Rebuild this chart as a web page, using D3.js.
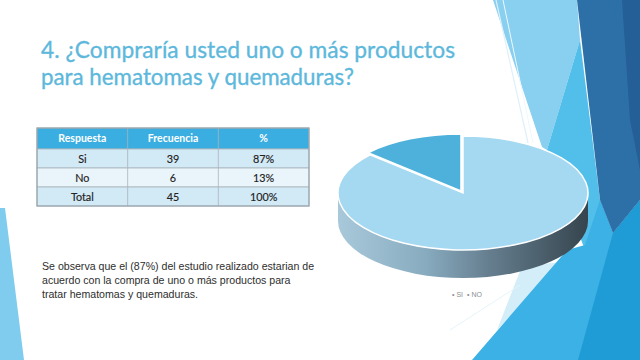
<!DOCTYPE html>
<html><head><meta charset="utf-8">
<script src="https://cdn.jsdelivr.net/npm/d3@7"></script>
<style>body{margin:0;background:#fff}svg{display:block}</style>
</head><body>
<svg id="c" width="640" height="360"></svg>
<script>
const titleLines = ["4. ¿Compraría usted uno o más productos", "para hematomas y quemaduras?"];
const tableHeaders = ["Respuesta", "Frecuencia", "%"];
const respuestas = ["Si", "No", "Total"];
const frecuencias = [39, 6, 45];
const porcentajes = ["87%", "13%", "100%"];
const pieCategories = ["SI", "NO"];
const pieValues = [39, 6];
const noteLines = [
  "Se observa que el (87%) del estudio realizado estarian de",
  "acuerdo con la compra de uno o más productos para",
  "tratar hematomas y quemaduras."
];

const svg = d3.select("#c");
const defs = svg.append("defs");

// ---------- decorative background (theme facets) ----------
const bg = svg.append("g");
const facets = [
  {c:"#7FCCEF", p:[[0,208],[5,208],[24,360],[0,360]]},
  {c:"#89CFEF", p:[[493,0],[577,0],[580,40],[547,150],[542,147]]},
  {c:"#52BEEA", p:[[580,40],[600,200],[613,233],[585,250],[547,150]]},
  {c:"#D3EEF9", p:[[497,330],[562,262],[522,266]]},
  {c:"#3BB1E5", p:[[472,360],[567,250],[585,245],[600,200],[613,233],[640,200],[640,360]]},
  {c:"#1F9BD6", p:[[578,360],[605,262],[613,233],[640,200],[640,360]]},
  {c:"#2D6FA7", p:[[577,0],[640,0],[640,200],[613,233],[600,200]]},
  {c:"#245F97", p:[[622,0],[640,0],[640,170],[630,120]]}
];
bg.selectAll("polygon").data(facets).join("polygon")
  .attr("points", d => d.p.map(q => q.join(",")).join(" "))
  .attr("fill", d => d.c);
bg.append("line").attr("x1",496).attr("y1",0).attr("x2",528).attr("y2",143)
  .attr("stroke","#DDF0FA").attr("stroke-width",1.2);
bg.append("line").attr("x1",503).attr("y1",0).attr("x2",533).attr("y2",143)
  .attr("stroke","#EEF8FC").attr("stroke-width",1);
bg.append("line").attr("x1",450).attr("y1",330).attr("x2",520).attr("y2",285)
  .attr("stroke","#E6F4FA").attr("stroke-width",1);

// ---------- title ----------
const titleLen = [414, 313];
svg.append("g").selectAll("text").data(titleLines).join("text")
  .attr("x", 41).attr("y", (d,i) => 58 + i*27)
  .attr("font-family", "Lato, 'Open Sans', sans-serif")
  .attr("font-size", 24).attr("fill", "#5DB8DC")
  .attr("stroke", "#5DB8DC").attr("stroke-width", 0.35)
  .attr("textLength", (d,i) => titleLen[i]).attr("lengthAdjust", "spacingAndGlyphs")
  .text(d => d);

// ---------- table ----------
const tx = d3.scaleBand().domain(tableHeaders).range([37, 309]);
const rowKeys = ["h"].concat(respuestas);
const ty = d3.scaleOrdinal().domain(rowKeys).range([128, 149, 168, 187]);
const th = d3.scaleOrdinal().domain(rowKeys).range([21, 19, 19, 19]);
const rowFill = d3.scaleOrdinal().domain(rowKeys).range(["#3AAEE0", "#D2E9F6", "#E9F4FB", "#D2E9F6"]);
const tg = svg.append("g");
tg.selectAll("rect.row").data(rowKeys).join("rect").attr("class","row")
  .attr("x", 37).attr("width", 272)
  .attr("y", d => ty(d)).attr("height", d => th(d))
  .attr("fill", d => rowFill(d)).attr("stroke", "#A9B4BA").attr("stroke-width", 0.8);
tg.selectAll("line.col").data(tableHeaders.slice(1)).join("line").attr("class","col")
  .attr("x1", d => tx(d)).attr("x2", d => tx(d)).attr("y1", 128).attr("y2", 206)
  .attr("stroke", "#A9B4BA").attr("stroke-width", 0.8);
tg.append("rect").attr("x",37).attr("y",128).attr("width",272).attr("height",78)
  .attr("fill","none").attr("stroke","#9AA6AD").attr("stroke-width",1.2);
tg.selectAll("text.h").data(tableHeaders).join("text").attr("class","h")
  .attr("x", d => tx(d) + tx.bandwidth()/2).attr("y", 142)
  .attr("text-anchor","middle").attr("font-family","Lato, sans-serif")
  .attr("font-size", 10.5).attr("font-weight","bold").attr("fill","#fff").text(d => d);
const cells = [];
respuestas.forEach((r,i) => {
  cells.push({row:r, col:tableHeaders[0], t:r});
  cells.push({row:r, col:tableHeaders[1], t:String(frecuencias[i])});
  cells.push({row:r, col:tableHeaders[2], t:porcentajes[i]});
});
tg.selectAll("text.c").data(cells).join("text").attr("class","c")
  .attr("x", d => tx(d.col) + tx.bandwidth()/2).attr("y", d => ty(d.row) + 13.5)
  .attr("text-anchor","middle").attr("font-family","Lato, sans-serif")
  .attr("font-size", 10.8).attr("fill","#222").attr("stroke","#222").attr("stroke-width",0.15)
  .text(d => d.t);

// ---------- note ----------
svg.append("g").selectAll("text").data(noteLines).join("text")
  .attr("x", 42).attr("y", (d,i) => 270 + i*14)
  .attr("font-family","'Liberation Sans', Arial, sans-serif")
  .attr("font-size", 10.6).attr("fill","#2E2E2E").text(d => d);

// ---------- 3D pie ----------
const cx = 463, cy = 193, rx = 125, ry = 57, depth = 28;
const sideGrad = defs.append("linearGradient").attr("id","side")
  .attr("gradientUnits","userSpaceOnUse").attr("x1",cx-rx).attr("x2",cx+rx).attr("y1",0).attr("y2",0);
[[0,"#A8C9DA"],[0.35,"#88ABBF"],[0.6,"#667F90"],[0.85,"#475A66"],[1,"#36454E"]]
  .forEach(s => sideGrad.append("stop").attr("offset", s[0]).attr("stop-color", s[1]));

const pg = svg.append("g");
pg.append("path")
  .attr("d", `M${cx+rx},${cy} A${rx},${ry} 0 0 1 ${cx-rx},${cy} L${cx-rx},${cy+depth} A${rx},${ry} 0 0 0 ${cx+rx},${cy+depth} Z`)
  .attr("fill","url(#side)");

const pie = d3.pie().sort(null).value(d => d.v);
const arcs = pie(pieCategories.map((c,i) => ({c, v: pieValues[i]})));
const arc = d3.arc().innerRadius(0).outerRadius(rx);
const color = d3.scaleOrdinal().domain(pieCategories).range(["#A5D8F1", "#4EB1DB"]);
const topFace = pg.append("g").attr("transform", `translate(${cx},${cy}) scale(1,${ry/rx})`);
topFace.selectAll("path").data(arcs).join("path")
  .attr("transform", d => {
    if (d.data.c !== "NO") return null;
    const m = (d.startAngle + d.endAngle)/2, off = 5;
    return `translate(${Math.sin(m)*off},${-Math.cos(m)*off})`;
  })
  .attr("d", arc).attr("fill", d => color(d.data.c))
  .attr("stroke","#fff").attr("stroke-width",1.5).attr("vector-effect","non-scaling-stroke");

// legend
const lg = svg.append("g").attr("font-family","'Liberation Sans', Arial, sans-serif")
  .attr("font-size", 7).attr("fill","#8A8F93");
const lx = d3.scaleOrdinal().domain(pieCategories).range([452, 467]);
lg.selectAll("text").data(pieCategories).join("text")
  .attr("x", d => lx(d)).attr("y", 297).text(d => "• " + d);
</script>
</body></html>
